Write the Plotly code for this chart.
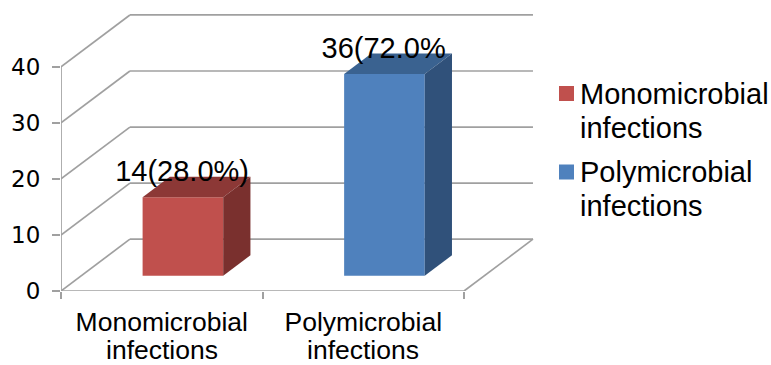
import plotly.graph_objects as go

categories = ["Monomicrobial", "Polymicrobial"]
category_second_line = ["infections", "infections"]
series_names = ["Monomicrobial<br>infections", "Polymicrobial<br>infections"]
values = [14, 36]
point_labels = ["14(28.0%)", "36(72.0%"]
y_ticks = [0, 10, 20, 30, 40]
front_colors = ["#C0504D", "#4F81BD"]
top_colors = ["#8C3836", "#3A6290"]
side_colors = ["#7A302E", "#30517A"]
GRID = "#A0A0A0"
FONT = "Liberation Sans, Arial, sans-serif"

# pseudo-3D projection: full depth expressed in axis units
DX, DY = 0.342, 9.25
D0, D1 = 0.295, 0.69
W = 0.40
XR = [-0.5, 1.852]
YR = [0, 49.6]
WIDTH, HEIGHT = 771, 365
M_L, M_R, M_T, M_B = 61, 236, 13, 74


def proj(x, v, d):
    return x + d * DX, v + d * DY


fig = go.Figure()

for i, (cat, val) in enumerate(zip(categories, values)):
    fig.add_trace(go.Bar(x=[cat], y=[val], base=D0 * DY, width=W,
                         offset=D0 * DX - W / 2 + 0.004,
                         marker=dict(color=front_colors[i], line=dict(width=0)),
                         showlegend=False, hoverinfo="skip"))
    l, r = i - W / 2 + 0.004, i + W / 2 + 0.004
    top = [proj(l, val, D0), proj(r, val, D0), proj(r, val, D1), proj(l, val, D1)]
    side = [proj(r, 0, D0), proj(r, val, D0), proj(r, val, D1), proj(r, 0, D1)]
    for poly, col in ((top, top_colors[i]), (side, side_colors[i])):
        xs, ys = zip(*(poly + poly[:1]))
        fig.add_trace(go.Scatter(x=xs, y=ys, xaxis="x2", mode="lines", fill="toself",
                                 fillcolor=col, line=dict(width=0, color=col),
                                 showlegend=False, hoverinfo="skip"))

# data labels
lx, ly = zip(*(proj(i, v + 1.6, D0) for i, v in enumerate(values)))
fig.add_trace(go.Scatter(x=lx, y=ly, xaxis="x2", mode="text", text=point_labels,
                         textposition="top center", cliponaxis=False,
                         textfont=dict(family=FONT, size=29, color="#000000"),
                         showlegend=False, hoverinfo="skip"))

# walls and floor
shapes = []
grid_line = dict(color=GRID, width=1.7)
for v in y_ticks:
    fx, fy = proj(-0.5, v, 0)
    bx, by = proj(-0.5, v, 1)
    ex, ey = proj(1.5, v, 1)
    shapes.append(dict(type="line", xref="x2", yref="y", x0=fx, y0=fy, x1=bx, y1=by,
                       line=grid_line, layer="below"))
    shapes.append(dict(type="line", xref="x2", yref="y", x0=bx, y0=by, x1=ex, y1=ey,
                       line=grid_line, layer="below"))
shapes.append(dict(type="line", xref="x2", yref="y", x0=1.5, y0=0, x1=proj(1.5, 0, 1)[0],
                   y1=proj(1.5, 0, 1)[1], line=grid_line, layer="below"))
shapes.append(dict(type="line", xref="x2", yref="y", x0=-0.5, y0=0, x1=1.5, y1=0,
                   line=grid_line, layer="below"))
shapes.append(dict(type="line", xref="x2", yref="y", x0=-0.5, y0=0, x1=-0.5, y1=y_ticks[-1],
                   line=grid_line, layer="below"))

# key at the right of the plot: swatch beside the first line, two tight text lines
annotations = []
for name, col, y_px in zip(series_names, front_colors, (93.5, 172)):
    shapes.append(dict(type="rect", xref="paper", yref="paper", layer="above",
                       x0=(559 - M_L) / (WIDTH - M_L - M_R), x1=(574 - M_L) / (WIDTH - M_L - M_R),
                       y0=1 - (y_px + 7.5 - M_T) / (HEIGHT - M_T - M_B),
                       y1=1 - (y_px - 7.5 - M_T) / (HEIGHT - M_T - M_B),
                       fillcolor=col, line=dict(width=0)))
    for k, line in enumerate(name.split("<br>")):
        annotations.append(dict(xref="paper", yref="paper", showarrow=False, xanchor="left",
                                yanchor="middle", text=line, borderpad=0,
                                x=(579 - M_L) / (WIDTH - M_L - M_R),
                                y=1 - (y_px + k * 34 - M_T) / (HEIGHT - M_T - M_B),
                                font=dict(family=FONT, size=29, color="#000000")))

# second line of each category label, set tighter than a native two-line tick label
for cat, line in zip(categories, category_second_line):
    annotations.append(dict(xref="x", yref="paper", x=cat, showarrow=False,
                            xanchor="center", yanchor="middle", text=line, borderpad=0,
                            y=1 - (350 - M_T) / (HEIGHT - M_T - M_B),
                            font=dict(family=FONT, size=26.5, color="#000000")))

fig.update_layout(
    width=WIDTH, height=HEIGHT,
    margin=dict(l=M_L, r=M_R, t=M_T, b=M_B, autoexpand=False),
    paper_bgcolor="white", plot_bgcolor="white",
    barmode="overlay", showlegend=False,
    font=dict(family=FONT, color="#000000"),
    xaxis=dict(type="category", categoryorder="array", categoryarray=categories,
               range=XR, tickson="boundaries", ticks="outside", ticklen=7, tickwidth=1.7,
               tickcolor=GRID, showgrid=False, zeroline=False, showline=False,
               tickangle=0, ticklabelstandoff=12, tickfont=dict(family=FONT, size=26.5)),
    xaxis2=dict(overlaying="x", range=XR, visible=False, anchor="y"),
    yaxis=dict(range=YR, tickvals=y_ticks, ticks="outside", ticklen=8, tickwidth=1.7,
               tickcolor=GRID, showgrid=False, zeroline=False, showline=False,
               ticklabelstandoff=7, tickfont=dict(family="DejaVu Sans", size=23)),
    shapes=shapes,
    annotations=annotations,
)

fig.write_html("out.html", config={"displayModeBar": False},
               post_script="document.body.style.margin='0';document.body.style.overflow='hidden';")
